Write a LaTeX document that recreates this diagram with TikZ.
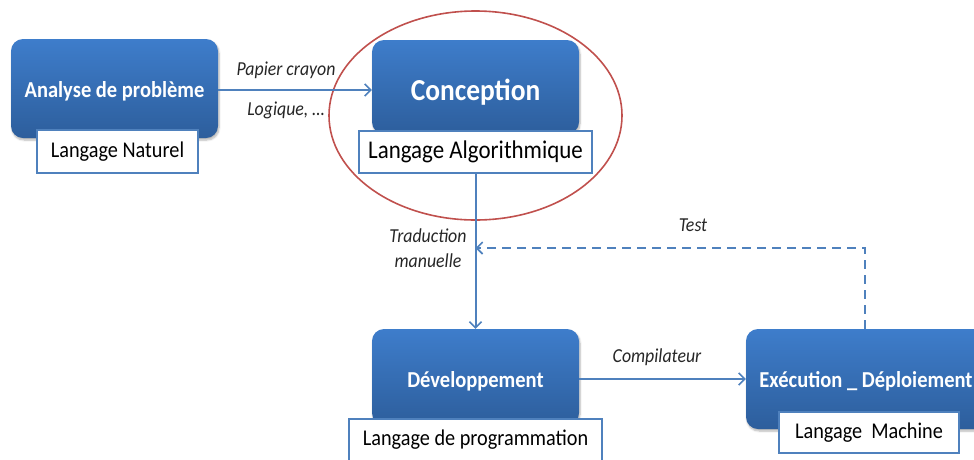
\documentclass[tikz,border=0pt]{standalone}
\usepackage{fontspec}
\setmainfont{Carlito}[FakeStretch=0.9]
\usetikzlibrary{arrows.meta,shadows.blur,shapes.geometric}
\definecolor{boxtop}{HTML}{3E7DCB}
\definecolor{boxbot}{HTML}{2D5E9C}
\definecolor{edgeblue}{HTML}{4F81BD}
\definecolor{ringred}{HTML}{C0504D}
\tikzset{
  stagebox/.style={rounded corners=12pt, top color=boxtop, bottom color=boxbot,
    draw=none, text=white,
    blur shadow={shadow blur steps=6, shadow xshift=1pt, shadow yshift=-2pt, shadow opacity=30}},
  stagetext/.style={text=white, font=\bfseries\fontsize{22.8}{26}\selectfont},
  langbox/.style={draw=edgeblue, line width=1.6pt, fill=white,
    font=\fontsize{22.5}{26}\selectfont, inner sep=0pt},
  flow/.style={draw=edgeblue, line width=2pt, -{Straight Barb[length=6pt,width=12pt,line width=1.6pt]}},
  testflow/.style={flow, dash pattern=on 9pt off 6pt},
  note/.style={font=\itshape\fontsize{19.8}{25}\selectfont, align=center, text=black!85}
}
\begin{document}
\begin{tikzpicture}[x=1pt,y=-1pt]
\useasboundingbox (0,0) rectangle (974,459);

% stage boxes
\node[stagebox, minimum width=207pt, minimum height=99pt] (ana) at (114.5,88.5) {};
\node[stagetext] (anatxt) at (114.5,91) {Analyse de problème};
\node[stagebox, minimum width=207pt, minimum height=94pt] (con) at (475.5,87) {};
\node[stagetext, font=\bfseries\fontsize{30.5}{34}\selectfont] (contxt) at (475.5,92) {Conception};
\node[stagebox, minimum width=207pt, minimum height=96pt] (dev) at (475.5,377) {};
\node[stagetext] (devtxt) at (475.5,381) {Développement};
\node[stagebox, minimum width=240pt, minimum height=100pt] (exe) at (866,379) {};
\node[stagetext] (exetxt) at (866,381) {Exécution \_ Déploiement};

% language boxes
\node[langbox, minimum width=161pt, minimum height=43pt] (nat) at (117.5,151.5) {Langage Naturel};
\node[langbox, minimum width=233pt, minimum height=42pt, font=\fontsize{25.5}{28}\selectfont] (alg) at (475.5,152) {Langage Algorithmique};
\node[langbox, minimum width=253pt, minimum height=42pt] (prg) at (475.5,440) {Langage de programmation};
\node[langbox, minimum width=180pt, minimum height=41pt] (mac) at (869,432.5) {Langage\ \ Machine};

% highlight ring round the design stage
\node[draw=ringred, line width=1.6pt, ellipse, minimum width=293pt, minimum height=209pt] (ring) at (475.5,115.5) {};

% connectors
\draw[flow] (ana.east |- 0,90) -- (con.west |- 0,90);
\node[note] (pap) at (286,70) {Papier crayon};
\node[note] (log) at (286,110) {Logique, …};

\draw[flow] (alg.south) -- (dev.north);
\node[note] (tra) at (428,248) {Traduction\\manuelle};

\draw[flow] (dev.east |- 0,379) -- (exe.west |- 0,379);
\node[note] (cmp) at (657,357) {Compilateur};

\coordinate (bend) at (865,248);
\draw[testflow] (exe.north -| bend) -- (bend) -- (alg.south |- bend);
\node[note] (tst) at (693,225) {Test};
\end{tikzpicture}
\end{document}
